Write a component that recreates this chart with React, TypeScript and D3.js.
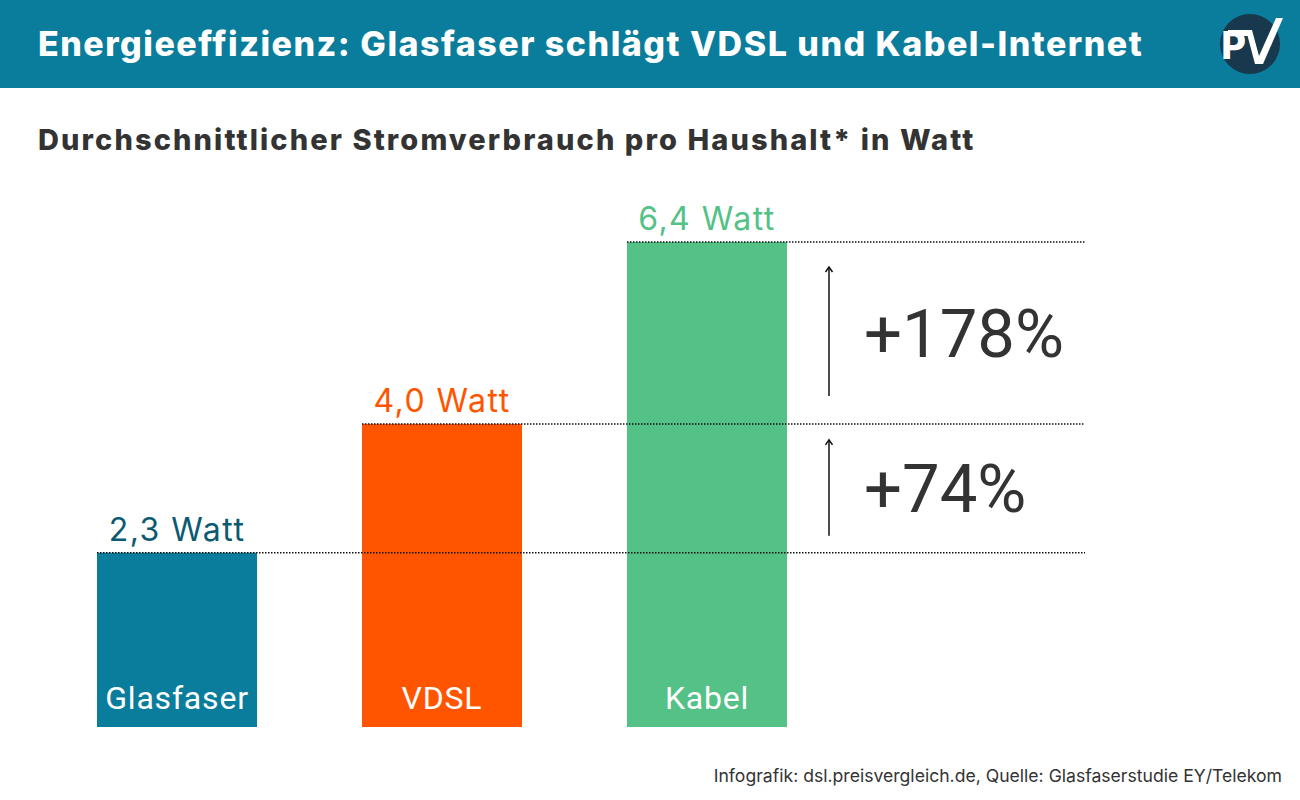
import { useEffect, useRef } from 'react';
import * as d3 from 'd3';

const categories = ['Glasfaser', 'VDSL', 'Kabel'];
const values = [2.3, 4.0, 6.4];
const valueLabels = ['2,3 Watt', '4,0 Watt', '6,4 Watt'];
const barColors = ['#0a7d9c', '#ff5500', '#54c187'];
const labelColors = ['#0b5a72', '#ff5500', '#54c187'];
const increases = ['+74%', '+178%'];

const W = 1300;
const H = 800;

const App = () => {
  const svgRef = useRef<SVGSVGElement>(null);

  useEffect(() => {
    if (!svgRef.current) return;
    const svg = d3.select(svgRef.current);
    svg.selectAll('*').remove();

    const font = 'Inter, "Noto Sans", sans-serif';

    // Header band
    svg.append('rect').attr('x', 0).attr('y', 0).attr('width', W).attr('height', 88).attr('fill', '#0a7d9c');
    svg
      .append('text')
      .attr('x', 38)
      .attr('y', 56)
      .attr('fill', '#fff')
      .attr('font-family', font)
      .attr('font-weight', 800)
      .attr('font-size', 34)
      .attr('letter-spacing', 1.5)
      .text('Energieeffizienz: Glasfaser schlägt VDSL und Kabel-Internet');

    // Logo
    const logo = svg.append('g').attr('transform', 'translate(1250,44)');
    logo.append('circle').attr('r', 30).attr('fill', '#17384d');
    logo
      .append('path')
      .attr('d', 'M2,-14 L9,12 L26,-26 L33,-26 L13,20 L5,20 L-4,-14 Z')
      .attr('fill', '#fff');
    logo
      .append('text')
      .attr('x', -4)
      .attr('y', 15)
      .attr('text-anchor', 'end')
      .attr('fill', '#fff')
      .attr('font-family', font)
      .attr('font-weight', 800)
      .attr('font-size', 38)
      .text('P');
    logo.append('rect').attr('x', -22).attr('y', -14).attr('width', 22).attr('height', 6).attr('fill', '#fff');

    // Subtitle
    svg
      .append('text')
      .attr('x', 38)
      .attr('y', 150)
      .attr('fill', '#333')
      .attr('font-family', font)
      .attr('font-weight', 800)
      .attr('font-size', 29)
      .attr('letter-spacing', 2.1)
      .text('Durchschnittlicher Stromverbrauch pro Haushalt* in Watt');

    // Scales
    const x = d3.scaleBand<string>().domain(categories).range([97, 787]).paddingInner(0.396);
    const y = d3.scaleLinear().domain([0, 6.4]).range([727, 242]);
    const lineEnd = 1085;

    const g = svg.append('g');

    // Bars
    g.selectAll('rect.bar')
      .data(values)
      .enter()
      .append('rect')
      .attr('class', 'bar')
      .attr('x', (_, i) => x(categories[i]) as number)
      .attr('y', d => y(d))
      .attr('width', x.bandwidth())
      .attr('height', d => y(0) - y(d))
      .attr('fill', (_, i) => barColors[i]);

    // Dotted reference lines
    g.selectAll('line.ref')
      .data(values)
      .enter()
      .append('line')
      .attr('class', 'ref')
      .attr('x1', (_, i) => x(categories[i]) as number)
      .attr('x2', lineEnd)
      .attr('y1', d => y(d))
      .attr('y2', d => y(d))
      .attr('stroke', '#111')
      .attr('stroke-width', 1.5)
      .attr('stroke-dasharray', '1.5,1.5');

    // Value labels
    g.selectAll('text.val')
      .data(values)
      .enter()
      .append('text')
      .attr('class', 'val')
      .attr('x', (_, i) => (x(categories[i]) as number) + x.bandwidth() / 2)
      .attr('y', d => y(d) - 12)
      .attr('text-anchor', 'middle')
      .attr('fill', (_, i) => labelColors[i])
      .attr('font-family', font)
      .attr('font-size', 32)
      .attr('letter-spacing', 1.5)
      .text((_, i) => valueLabels[i]);

    // Category labels inside bars
    g.selectAll('text.cat')
      .data(categories)
      .enter()
      .append('text')
      .attr('class', 'cat')
      .attr('x', d => (x(d) as number) + x.bandwidth() / 2)
      .attr('y', 709)
      .attr('text-anchor', 'middle')
      .attr('fill', '#fff')
      .attr('font-family', 'Roboto, sans-serif')
      .attr('font-size', 32)
      .attr('letter-spacing', 0.8)
      .text(d => d);

    // Arrows + increase labels
    const arrowX = 829;
    const spans = [
      { lo: values[0], hi: values[1], label: increases[0], offLo: 17, offHi: 16 },
      { lo: values[1], hi: values[2], label: increases[1], offLo: 28, offHi: 25 },
    ];
    spans.forEach(s => {
      const yTop = y(s.hi) + s.offHi;
      g.append('line')
        .attr('x1', arrowX)
        .attr('x2', arrowX)
        .attr('y1', y(s.lo) - s.offLo)
        .attr('y2', yTop)
        .attr('stroke', '#111')
        .attr('stroke-width', 1.5);
      g.append('path')
        .attr('d', `M${arrowX - 3.5},${yTop + 5} L${arrowX},${yTop} L${arrowX + 3.5},${yTop + 5}`)
        .attr('fill', 'none')
        .attr('stroke', '#111')
        .attr('stroke-width', 1.5);
      g.append('text')
        .attr('x', 864)
        .attr('y', (y(s.lo) + y(s.hi)) / 2 + 24)
        .attr('fill', '#333')
        .attr('font-family', 'Roboto, sans-serif')
        .attr('font-size', 67)
        .text(s.label);
    });

    // Footer
    svg
      .append('text')
      .attr('x', 1282)
      .attr('y', 782)
      .attr('text-anchor', 'end')
      .attr('fill', '#333')
      .attr('font-family', font)
      .attr('font-size', 17.6)
      .text('Infografik: dsl.preisvergleich.de, Quelle: Glasfaserstudie EY/Telekom');
  }, []);

  return (
    <svg
      ref={svgRef}
      width={W}
      height={H}
      style={{ position: 'absolute', left: 0, top: 0, background: '#fff' }}
    />
  );
};

export default App;
